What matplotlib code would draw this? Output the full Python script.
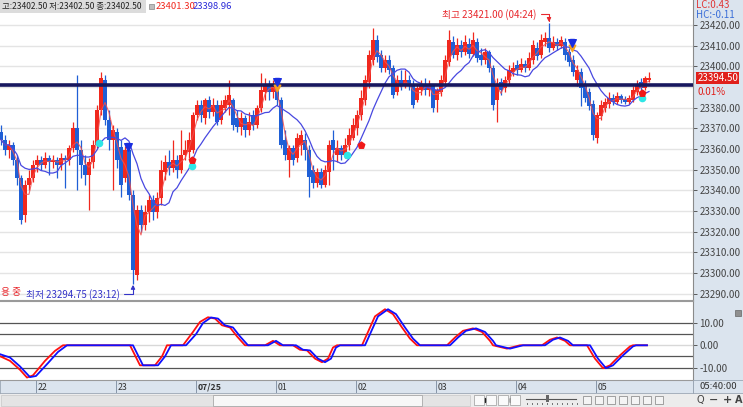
import matplotlib
matplotlib.use("Agg")
import matplotlib.pyplot as plt
from matplotlib.patches import Rectangle
from matplotlib.lines import Line2D
from matplotlib.transforms import blended_transform_factory
import numpy as np
import pandas as pd

plt.rcParams['font.family'] = ['Noto Sans CJK KR', 'DejaVu Sans']

# ---------------- data ----------------
first_candle = "2025-07-24 21:33"   # 3-minute candles
bar_freq = "3min"

opens = [23368.25, 23364.5, 23359.5, 23362.0, 23354.75, 23346.0, 23328.0, 23342.5, 23346.0, 23352.25,
         23354.75, 23352.25, 23355.75, 23353.75, 23354.75, 23352.25, 23355.75, 23354.75, 23360.5, 23370.25,
         23359.5, 23352.25, 23347.5, 23353.75, 23362.0, 23379.0, 23393.5, 23374.0, 23364.5, 23368.25,
         23361.0, 23346.0, 23359.5, 23337.75, 23299.0, 23330.5, 23323.25, 23329.5, 23335.25, 23329.5,
         23336.25, 23349.0, 23353.75, 23350.75, 23354.75, 23349.75, 23357.0, 23358.5, 23359.5, 23376.5,
         23381.25, 23375.0, 23383.75, 23378.0, 23381.25, 23374.0, 23379.75, 23381.25, 23383.75, 23375.0,
         23370.75, 23375.0, 23369.25, 23376.5, 23371.5, 23379.75, 23387.5, 23391.0, 23387.5, 23391.0,
         23383.75, 23364.5, 23354.75, 23360.5, 23355.75, 23362.0, 23364.5, 23359.5, 23349.75, 23343.5,
         23349.0, 23342.5, 23349.0, 23364.5, 23357.0, 23360.5, 23357.0, 23362.0, 23365.25, 23370.25,
         23376.5, 23383.75, 23392.5, 23403.0, 23412.75, 23405.5, 23399.25, 23403.0, 23399.25, 23387.5,
         23393.5, 23390.5, 23393.5, 23391.0, 23383.75, 23388.5, 23391.5, 23388.5, 23390.5, 23383.75,
         23387.5, 23392.5, 23402.0, 23411.75, 23405.5, 23410.25, 23407.0, 23410.75, 23406.0, 23411.75,
         23405.5, 23403.0, 23407.0, 23399.25, 23383.75, 23392.5, 23389.5, 23393.5, 23397.25, 23400.75,
         23398.25, 23401.0, 23399.25, 23403.0, 23409.0, 23405.5, 23411.75, 23413.75, 23409.0, 23411.75,
         23409.75, 23411.75, 23407.0, 23403.0, 23393.5, 23397.25, 23391.0, 23387.5, 23381.75, 23365.25,
         23376.0, 23379.75, 23381.75, 23384.75, 23382.75, 23385.75, 23384.25, 23382.75, 23383.75, 23387.5,
         23392.5, 23389.5, 23393.5]

highs = [23371.5, 23366.75, 23364.5, 23363.5, 23357.0, 23347.5, 23345.0, 23349.75, 23354.75, 23357.0,
         23356.5, 23358.5, 23357.0, 23357.0, 23356.0, 23358.0, 23357.0, 23362.0, 23373.0, 23395.75,
         23364.5, 23357.0, 23355.75, 23364.5, 23381.25, 23397.25, 23395.75, 23379.0, 23371.5, 23370.25,
         23364.5, 23361.5, 23361.0, 23340.25, 23333.0, 23333.0, 23333.0, 23337.75, 23337.75, 23339.25,
         23354.75, 23357.0, 23359.5, 23364.5, 23357.0, 23369.25, 23364.5, 23368.25, 23378.0, 23383.75,
         23383.75, 23384.75, 23385.75, 23384.75, 23383.75, 23383.75, 23386.0, 23393.5, 23384.75, 23379.0,
         23378.0, 23376.5, 23378.0, 23379.0, 23381.25, 23396.75, 23394.5, 23393.5, 23393.5, 23392.5,
         23385.25, 23369.25, 23362.0, 23362.0, 23367.75, 23369.25, 23367.75, 23362.0, 23352.25, 23350.75,
         23350.75, 23352.25, 23364.5, 23369.25, 23364.5, 23362.0, 23365.25, 23370.25, 23375.0, 23379.0,
         23388.5, 23395.75, 23408.0, 23418.5, 23415.25, 23408.0, 23405.5, 23405.5, 23400.75, 23395.75,
         23398.25, 23398.25, 23395.75, 23393.5, 23391.0, 23393.5, 23394.5, 23393.5, 23391.5, 23389.5,
         23395.75, 23405.5, 23417.5, 23414.75, 23413.75, 23412.75, 23415.25, 23413.75, 23416.5, 23413.75,
         23409.0, 23409.0, 23408.0, 23400.75, 23394.5, 23394.5, 23395.25, 23400.75, 23402.0, 23403.0,
         23404.0, 23403.0, 23407.0, 23412.75, 23411.75, 23415.75, 23416.5, 23421.0, 23414.75, 23413.75,
         23414.75, 23413.75, 23409.0, 23405.5, 23400.75, 23399.25, 23393.5, 23389.5, 23383.75, 23378.0,
         23383.75, 23384.75, 23387.5, 23386.75, 23387.5, 23386.75, 23385.75, 23386.0, 23390.5, 23393.5,
         23394.5, 23395.25, 23397.25]

lows = [23362.0, 23357.0, 23355.75, 23352.25, 23342.5, 23323.75, 23324.75, 23340.25, 23344.0, 23349.0,
        23349.75, 23350.75, 23347.5, 23350.75, 23346.0, 23349.75, 23341.0, 23352.25, 23358.5, 23340.25,
        23346.0, 23342.5, 23330.5, 23350.75, 23360.5, 23376.5, 23371.5, 23359.5, 23340.25, 23350.75,
        23336.75, 23344.0, 23335.25, 23294.75, 23296.5, 23319.75, 23320.75, 23324.75, 23325.75, 23326.5,
        23333.0, 23345.0, 23347.5, 23349.0, 23346.0, 23348.5, 23354.75, 23355.75, 23358.0, 23374.0,
        23373.0, 23372.0, 23375.0, 23376.0, 23371.5, 23372.0, 23378.0, 23376.5, 23369.25, 23368.25,
        23366.75, 23365.75, 23366.75, 23369.25, 23370.25, 23378.0, 23383.75, 23383.75, 23384.75, 23381.25,
        23360.5, 23354.75, 23346.5, 23352.25, 23353.75, 23357.0, 23354.75, 23336.75, 23341.0, 23341.5,
        23341.0, 23341.5, 23342.5, 23349.75, 23353.75, 23354.75, 23355.75, 23359.5, 23364.5, 23366.75,
        23374.0, 23381.25, 23389.5, 23400.75, 23402.0, 23397.25, 23397.25, 23396.25, 23384.75, 23386.0,
        23388.5, 23389.5, 23388.5, 23379.75, 23382.75, 23386.0, 23386.0, 23385.75, 23378.0, 23378.0,
        23385.75, 23391.0, 23400.25, 23404.0, 23403.0, 23404.5, 23405.5, 23404.0, 23405.0, 23402.0,
        23400.75, 23401.0, 23397.25, 23379.0, 23373.0, 23386.0, 23387.5, 23391.0, 23395.25, 23395.75,
        23397.25, 23397.25, 23398.25, 23401.0, 23403.0, 23404.0, 23409.75, 23407.0, 23408.0, 23408.0,
        23409.0, 23403.0, 23400.25, 23395.25, 23390.5, 23380.75, 23382.75, 23379.0, 23364.5, 23363.0,
        23374.0, 23378.0, 23379.75, 23381.25, 23381.75, 23382.25, 23381.75, 23381.75, 23382.75, 23386.0,
        23387.5, 23388.5, 23392.5]

closes = [23364.5, 23359.5, 23362.0, 23354.75, 23346.0, 23325.75, 23342.5, 23346.0, 23352.25, 23354.75,
          23352.25, 23355.75, 23353.75, 23354.75, 23352.25, 23355.75, 23354.75, 23360.5, 23370.25, 23359.5,
          23352.25, 23347.5, 23353.75, 23362.0, 23379.0, 23394.5, 23374.0, 23364.5, 23369.25, 23354.75,
          23342.5, 23359.5, 23337.75, 23301.5, 23330.5, 23323.25, 23329.5, 23335.25, 23329.5, 23336.25,
          23349.75, 23353.75, 23350.75, 23354.75, 23349.75, 23357.0, 23359.5, 23364.5, 23376.5, 23381.25,
          23376.5, 23383.75, 23378.0, 23381.25, 23373.0, 23381.25, 23383.75, 23386.0, 23371.5, 23370.75,
          23375.0, 23369.25, 23373.0, 23371.5, 23379.75, 23388.5, 23391.0, 23387.5, 23391.5, 23383.75,
          23362.0, 23357.0, 23360.5, 23354.75, 23365.25, 23366.75, 23359.5, 23346.5, 23343.5, 23349.0,
          23342.5, 23349.75, 23362.0, 23359.5, 23360.5, 23357.0, 23362.0, 23366.75, 23371.5, 23376.5,
          23384.75, 23393.5, 23405.5, 23412.75, 23404.5, 23399.25, 23403.0, 23398.25, 23386.0, 23393.5,
          23390.5, 23393.5, 23390.5, 23381.25, 23389.5, 23391.5, 23388.5, 23391.0, 23379.75, 23388.5,
          23393.5, 23403.0, 23412.75, 23405.5, 23410.25, 23407.0, 23411.75, 23406.0, 23412.75, 23404.0,
          23403.0, 23407.0, 23399.25, 23381.25, 23391.0, 23388.5, 23393.5, 23398.25, 23399.25, 23398.25,
          23401.0, 23399.25, 23404.0, 23410.25, 23405.0, 23412.75, 23413.75, 23409.0, 23411.75, 23409.75,
          23412.75, 23405.5, 23402.0, 23397.25, 23398.25, 23389.5, 23384.75, 23380.75, 23366.75, 23376.5,
          23381.25, 23382.75, 23384.75, 23382.75, 23385.75, 23383.75, 23382.75, 23384.75, 23388.5, 23391.5,
          23389.5, 23394.5, 23394.5]

hour_labels = ["22", "23", "07/25", "01", "02", "03", "04", "05"]
hour_times = ["2025-07-24 22:00", "2025-07-24 23:00", "2025-07-25 00:00", "2025-07-25 01:00",
              "2025-07-25 02:00", "2025-07-25 03:00", "2025-07-25 04:00", "2025-07-25 05:00"]

price_ticks = [23420, 23410, 23400, 23380, 23370, 23360, 23350, 23340, 23330, 23320, 23310, 23300, 23290]
grid_levels = [23420, 23410, 23400, 23390, 23380, 23370, 23360, 23350, 23340, 23330, 23320, 23310, 23300, 23290]
h_line_level = 23391.0
last_price = 23394.50
last_change = "0.01%"
header_text = "고:23402.50 저:23402.50 종:23402.50"
header_ma1 = "23401.30"
header_ma2 = "23398.96"
lc_text = "LC:0.43"
hc_text = "HC:-0.11"
cut_label = "용 중"
axis_time_label = "05:40:00"

# oscillator (lower pane), knots at candle positions
osc_red_x = [-0.25, 2.25, 4.75, 6.5, 8, 11, 13.5, 15.5, 32.25, 34.75, 38.5, 40.25, 41.5, 45.5, 48, 49.75,
             51.75, 53.5, 55.25, 57.25, 59, 61, 66, 68, 69.75, 73, 74.75, 76.5, 78.5, 80.25, 81.75, 83, 84,
             90.25, 91.75, 93.5, 96, 98, 100.25, 102.25, 104, 111.5, 113.5, 115.5, 118, 120.25, 122.25, 123,
             126.5, 129.75, 135.25, 137.25, 139, 141, 142.25, 146.5, 148.5, 150.5, 152.25, 154.75, 157.25,
             158, 161.5]
osc_red_y = [-4.9, -7, -11, -14.5, -13.5, -7, -2.5, 0, 0, -9, -9, -5, 0, 0, 6, 10.5,
             12.6, 12, 9, 8, 4, 0, 0, 2, 0, 0, -2, -2.3, -6, -7.6, -6, -1, 0,
             0, 6, 13, 16.2, 14, 8, 3, 0, 0, 3.5, 6.5, 7.6, 6, 2, 0,
             -1.5, 0, 0, 2.5, 3.5, 2, 0, 0, -6, -10.3, -9, -4.5, -0.5,
             0, 0]
osc_blue_x = [-0.25, 2.25, 4.75, 7.25, 8.75, 11.75, 14.25, 16.5, 33.0, 35.5, 39.25, 41.0, 42.5, 46.25,
              48.75, 50.5, 52.5, 54.25, 56.0, 58.0, 59.75, 61.75, 66.75, 68.75, 70.5, 73.75, 75.5, 77.25,
              79.25, 81.0, 82.5, 83.75, 84.75, 91.0, 92.5, 94.25, 96.75, 98.75, 101.0, 103.0, 104.75,
              112.25, 114.25, 116.25, 118.75, 121.0, 123.0, 123.75, 127.25, 130.5, 136.0, 138.0, 139.75,
              141.75, 143.0, 147.25, 149.25, 151.25, 153.0, 155.5, 158.0, 158.75, 161.5]
osc_blue_y = [-4.0, -5.5, -9.5, -14.3, -13.8, -8, -3, 0, 0, -9, -9, -5, 0, 0,
              5, 10, 12.5, 12, 9, 8, 4, 0, 0, 2, 0, 0, -2, -2.3,
              -6, -7.6, -6, -1, 0, 0, 6, 13, 16.2, 14, 8, 3, 0,
              0, 3.5, 6.5, 7.6, 6, 2, 0, -1.5, 0, 0, 2.5, 3.5,
              2, 0, 0, -6, -10.3, -9, -4.5, -0.5, 0, 0]
osc_levels = [10, 5, -5, -10]
osc_ticks = [10, 0, -10]

# signal markers (candle position, price)
sig_cyan_x = [24.5, 47.75, 86.5, 160.25]
sig_cyan_y = [23363.0, 23352.0, 23357.0, 23384.75]
sig_red_x = [47.75, 90.0, 160.25]
sig_red_y = [23354.75, 23362.0, 23387.25]
sig_blue_x = [31.75, 69.0, 142.75]
sig_blue_y = [23361.0, 23392.25, 23411.25]
sig_orange_x = [69.0, 142.75]
sig_orange_y = [23389.5, 23408.75]

# ---------------- figure ----------------
W, H = 743, 407
fig = plt.figure(figsize=(W / 100, H / 100), dpi=100)
fig.patch.set_facecolor('white')


def box(x0, y0, x1, y1):
    return [x0 / W, 1 - y1 / H, (x1 - x0) / W, (y1 - y0) / H]


def frect(x0, y0, x1, y1, **kw):
    fig.patches.append(Rectangle((x0 / W, 1 - y1 / H), (x1 - x0) / W, (y1 - y0) / H,
                                 transform=fig.transFigure, **kw))


def ftext(x, y, s, **kw):
    fig.text(x / W, 1 - y / H, s, **kw)


AXBG = '#dbe4ee'
RED = '#f0281e'
BLUE = '#1f5fd6'

# chrome backgrounds (behind axes)
frect(693, 0, 743, 393, facecolor=AXBG, edgecolor='none', zorder=-10)
frect(0, 380, 693, 393, facecolor=AXBG, edgecolor='none', zorder=-10)
frect(0, 393, 743, 407, facecolor='#ececec', edgecolor='none', zorder=-10)

n = len(closes)
idx = np.arange(n)
times = pd.date_range(first_candle, periods=n, freq=bar_freq)
o = np.array(opens); h = np.array(highs); l = np.array(lows); c = np.array(closes)
x_left, x_right = -0.25, 173.0

# ---------------- price pane ----------------
ax = fig.add_axes(box(0, 0, 693, 300))
ax.set_zorder(2)
ax.set_xlim(x_left, x_right)
ax.set_ylim(23286.94, 23432.1)
ax.set_facecolor('white')
for lv in grid_levels:
    ax.axhline(lv, color='#e4e4e4', lw=1.0, zorder=0)

up = c >= o
cols = np.where(up, RED, BLUE)
ax.vlines(idx, l, h, colors=cols, lw=0.9, zorder=2)
body = np.maximum(np.abs(c - o), 0.3)
ax.bar(idx, body, bottom=np.minimum(o, c), width=0.8, color=cols, lw=0, zorder=3)

ma_fast = pd.Series(c).rolling(3, min_periods=1).mean()
ma_slow = pd.Series(c).rolling(10, min_periods=1).mean()
ax.plot(idx, ma_fast, color='#f05050', lw=0.8, alpha=0.85, zorder=4)
ax.plot(idx, ma_slow, color='#4848e0', lw=0.9, zorder=4)

ax.axhline(h_line_level, color='#17175e', lw=2.6, zorder=5)

ax.scatter(sig_orange_x, sig_orange_y, marker='v', s=22, color='#f5a020', zorder=6)
ax.scatter(sig_blue_x, sig_blue_y, marker='v', s=30, color='#1a2ee0', zorder=7)
ax.scatter(sig_blue_x, np.array(sig_blue_y) + 1.0, marker='s', s=12, color='#1a2ee0', zorder=7)
ax.scatter(sig_cyan_x, sig_cyan_y, marker='o', s=20, color='#2ee6e6', zorder=6)
ax.scatter(sig_red_x, sig_red_y, marker='p', s=24, color='#f01818', zorder=7)

# high / low annotations
hi_k = int(np.argmax(h)); lo_k = int(np.argmin(l))
ax.annotate(f"최고 {h[hi_k]:.2f} ({times[hi_k]:%H:%M})", xy=(hi_k, h[hi_k] + 0.4),
            xytext=(-9, 5.8), textcoords='offset points', ha='right', va='center',
            color='#e8282d', fontsize=7,
            arrowprops=dict(arrowstyle='-|>', color='#e8282d', lw=0.8, mutation_scale=6,
                            shrinkA=1, shrinkB=0, connectionstyle='angle,angleA=0,angleB=90,rad=0'),
            zorder=8)
ax.annotate(f"최저 {l[lo_k]:.2f} ({times[lo_k]:%H:%M})", xy=(lo_k, l[lo_k] - 0.4),
            xytext=(-9.5, -6.8), textcoords='offset points', ha='right', va='center',
            color='#3434c8', fontsize=7,
            arrowprops=dict(arrowstyle='-|>', color='#3434c8', lw=0.8, mutation_scale=6,
                            shrinkA=1, shrinkB=0, connectionstyle='angle,angleA=0,angleB=90,rad=0'),
            zorder=8)
ax.text(0.0, 23290.8, cut_label, color='#e8282d', fontsize=7, ha='left', va='center', zorder=8)

ax.yaxis.tick_right()
ax.set_yticks(price_ticks)
ax.set_yticklabels([f"{v:.2f}" for v in price_ticks])
ax.tick_params(axis='y', direction='out', length=3, width=0.6, colors='#444444', labelsize=7, pad=1.5)
ax.set_xticks([])
for s in ['top', 'left']:
    ax.spines[s].set_visible(False)
ax.spines['right'].set_color('#8a8a8a')
ax.spines['bottom'].set_color('#9a9a9a')

# last price box
tr = blended_transform_factory(ax.transAxes, ax.transData)
ax.text(1.006, last_price, f"{last_price:.2f}", transform=tr, color='white', fontsize=7,
        ha='left', va='center', clip_on=False, zorder=10,
        bbox=dict(boxstyle='square,pad=0.12', fc='#e0201b', ec='none'))
ax.annotate(last_change, xy=(1.006, last_price), xycoords=tr, xytext=(0, -10),
            textcoords='offset points', color='#e0201b', fontsize=7, ha='left', va='center',
            annotation_clip=False)

# header
frect(0, 0, 146, 13, facecolor='#dcdcdc', edgecolor='none', zorder=5)
ftext(1.5, 6.5, header_text, fontsize=6.1, color='#222222', va='center', ha='left', zorder=6)
frect(149, 4, 154, 9, facecolor='#bdbdbd', edgecolor='#888888', lw=0.5, zorder=6)
ftext(156, 6.5, header_ma1, fontsize=6.8, color=RED, va='center', ha='left', zorder=6)
ftext(193, 6.5, header_ma2, fontsize=6.8, color='#2a2ad8', va='center', ha='left', zorder=6)
ftext(696, 5, lc_text, fontsize=7, color='#e03838', va='center', ha='left', zorder=6)
ftext(696, 15, hc_text, fontsize=7, color='#3a6ed8', va='center', ha='left', zorder=6)

# ---------------- oscillator pane ----------------
ax2 = fig.add_axes(box(0, 301, 693, 380))
ax2.set_zorder(2)
ax2.set_xlim(x_left, x_right)
ax2.set_ylim(-15.6, 19.9)
ax2.set_facecolor('white')
for lv in osc_levels:
    ax2.axhline(lv, color='#555555', lw=0.9, zorder=1)
ax2.axhline(0, color='#d8d8d8', lw=1.0, zorder=1)
ax2.plot(osc_red_x, osc_red_y, color='#ff1010', lw=1.3, zorder=3)
ax2.plot(osc_blue_x, osc_blue_y, color='#1010ff', lw=1.3, zorder=4)
ax2.yaxis.tick_right()
ax2.set_yticks(osc_ticks)
ax2.set_yticklabels([f"{v:.2f}" for v in osc_ticks])
ax2.tick_params(axis='y', direction='out', length=3, width=0.6, colors='#444444', labelsize=7, pad=1.5)
ax2.set_xticks([])
ax2.spines['left'].set_visible(False)
ax2.spines['top'].set_color('#9a9a9a')
ax2.spines['right'].set_color('#8a8a8a')
ax2.spines['bottom'].set_color('#9a9a9a')
frect(735, 310, 741, 316, facecolor='#8f8f8f', edgecolor='#666666', lw=0.5, zorder=5)

# ---------------- time strip ----------------
ax3 = fig.add_axes(box(0, 380, 693, 393))
ax3.set_xlim(x_left, x_right)
ax3.set_ylim(0, 1)
ax3.set_facecolor(AXBG)
ax3.set_xticks([]); ax3.set_yticks([])
for s in ax3.spines.values():
    s.set_color('#9aa6b4'); s.set_linewidth(0.6)
t0 = pd.Timestamp(first_candle)
for lab, ht in zip(hour_labels, hour_times):
    pos = (pd.Timestamp(ht) - t0) / pd.Timedelta(bar_freq)
    ax3.axvline(pos - 0.3, color='#8796a8', lw=0.7)
    ax3.text(pos + 0.2, 0.45, lab, fontsize=6.3, color='#333333', va='center', ha='left',
             fontweight='bold' if '/' in lab else 'normal')
ftext(718, 386.5, axis_time_label, fontsize=6.8, color='#333333', va='center', ha='center')
frect(693, 380, 743, 393, facecolor='none', edgecolor='#9aa6b4', lw=0.6, zorder=3)

# ---------------- bottom toolbar ----------------
frect(1, 395, 470, 406, facecolor='#e4e4e4', edgecolor='#c8c8c8', lw=0.5, zorder=1)
frect(213, 395, 422, 406, facecolor='#f7f7f7', edgecolor='#a8a8a8', lw=0.6, zorder=2)
for i in range(4):
    x0 = 474 + i * 12
    frect(x0, 395, x0 + 10, 405, facecolor='#fafafa', edgecolor='#9a9a9a', lw=0.5, zorder=2)
# button glyphs drawn as small shapes (play, first, stop, last)
def fmark(x, y, m, s=3):
    fig.lines.append(Line2D([x / W], [1 - y / H], transform=fig.transFigure, marker=m,
                            markersize=s, color='#222222', lw=0))
fmark(479, 400, '>', 3)
fmark(483, 400, '<', 3); fmark(486, 400, '<', 3)
fmark(503, 400, 's', 3)
fmark(512, 400, '>', 3); fmark(515, 400, '>', 3)
fig.lines.append(Line2D([526 / W, 576 / W], [1 - 398.5 / H] * 2, transform=fig.transFigure,
                        color='#555555', lw=0.8))
frect(546, 395, 549, 402, facecolor='#666666', edgecolor='none', zorder=3)
for i in range(11):
    xx = 527 + i * 5
    frect(xx, 403, xx + 1, 405, facecolor='#777777', edgecolor='none', zorder=3)
for i in range(7):
    x0 = 583 + i * 12
    frect(x0, 396, x0 + 8, 404, facecolor='#f4f4f4', edgecolor='#7f7f7f', lw=0.5, zorder=2)
ftext(700, 400, "Q", fontsize=7, color='#444444', ha='center', va='center', family=['DejaVu Sans'])
ftext(714, 400, "−", fontsize=8, color='#444444', ha='center', va='center', family=['DejaVu Sans'],
      fontweight='bold')
ftext(727, 400, "+", fontsize=8, color='#444444', ha='center', va='center', family=['DejaVu Sans'],
      fontweight='bold')
ftext(739, 400, "A", fontsize=7, color='#444444', ha='center', va='center', family=['DejaVu Sans'],
      fontweight='bold')

fig.savefig("out.png", dpi=100, facecolor=fig.get_facecolor())
